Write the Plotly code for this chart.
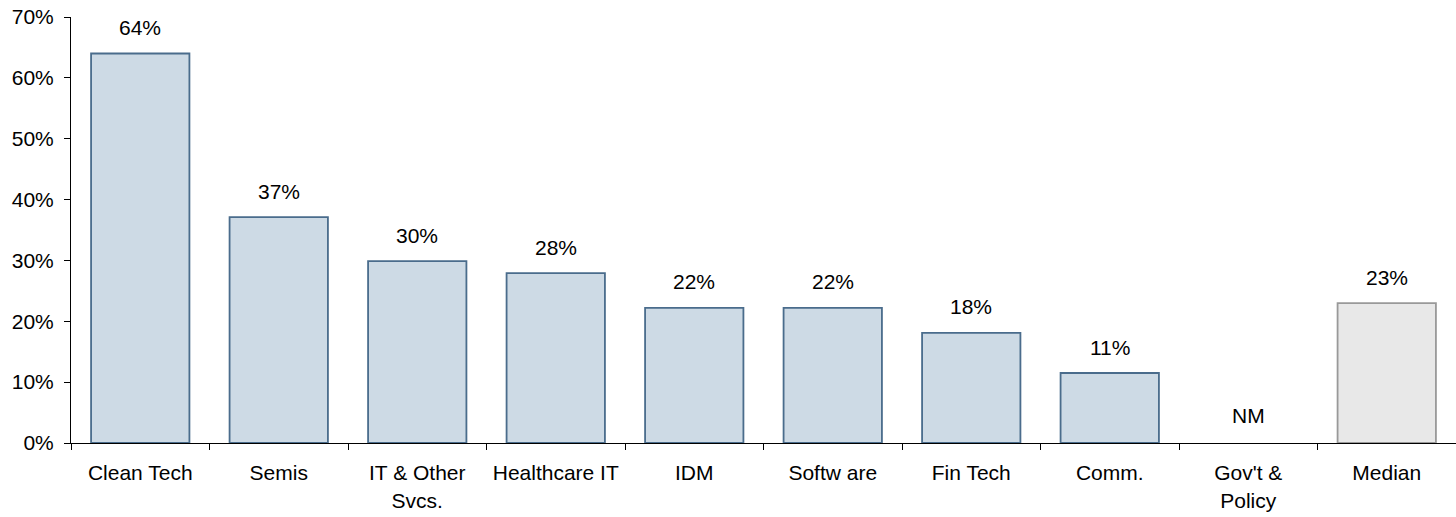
import plotly.graph_objects as go

categories = ["Clean Tech", "Semis", "IT & Other<br>Svcs.", "Healthcare IT", "IDM",
              "Softw are", "Fin Tech", "Comm.", "Gov't &<br>Policy", "Median"]
values = [64.0, 37.1, 29.9, 27.9, 22.2, 22.2, 18.1, 11.5, None, 23.0]
labels = ["64%", "37%", "30%", "28%", "22%", "22%", "18%", "11%", "NM", "23%"]
nm_level = 4.6  # where the "NM" text sits

sector_fill = "#CDDAE5"
sector_line = "#4A6C8C"
median_fill = "#E8E8E8"
median_line = "#999999"

fills = [median_fill if c == "Median" else sector_fill for c in categories]
lines = [median_line if c == "Median" else sector_line for c in categories]

fig = go.Figure()
fig.add_trace(go.Bar(x=categories, y=values, width=0.71,
                     marker=dict(color=fills, line=dict(color=lines, width=1.8)),
                     hoverinfo="skip", showlegend=False))

for c, v, t in zip(categories, values, labels):
    if v is None:
        fig.add_annotation(x=c, y=nm_level, text=t, showarrow=False,
                           font=dict(size=21, color="#000000"))
    else:
        fig.add_annotation(x=c, y=v, text=t, showarrow=False, yanchor="middle",
                           yshift=26, font=dict(size=21, color="#000000"))

fig.update_xaxes(showline=True, linecolor="#000000", linewidth=1, automargin=False,
                 ticks="outside", tickson="boundaries", ticklen=6, tickcolor="#000000",
                 ticklabelstandoff=11, tickfont=dict(size=21, color="#000000"),
                 showgrid=False)
fig.update_yaxes(range=[0, 70], dtick=10, ticksuffix="%", showline=True, automargin=False,
                 linecolor="#000000", linewidth=1, ticks="outside", ticklen=6,
                 tickcolor="#000000", ticklabelstandoff=6,
                 tickfont=dict(size=21, color="#000000"), showgrid=False, zeroline=False)

fig.update_layout(width=1456, height=517, plot_bgcolor="white", paper_bgcolor="white",
                  font=dict(family="Liberation Sans, Arial, sans-serif"),
                  margin=dict(l=71, r=0, t=17, b=74), bargap=0.29)

# drop the default body margin so the figure sits at the window's corner
fig.write_html("out.html", config={"displayModeBar": False},
               post_script="document.body.style.margin='0';")
